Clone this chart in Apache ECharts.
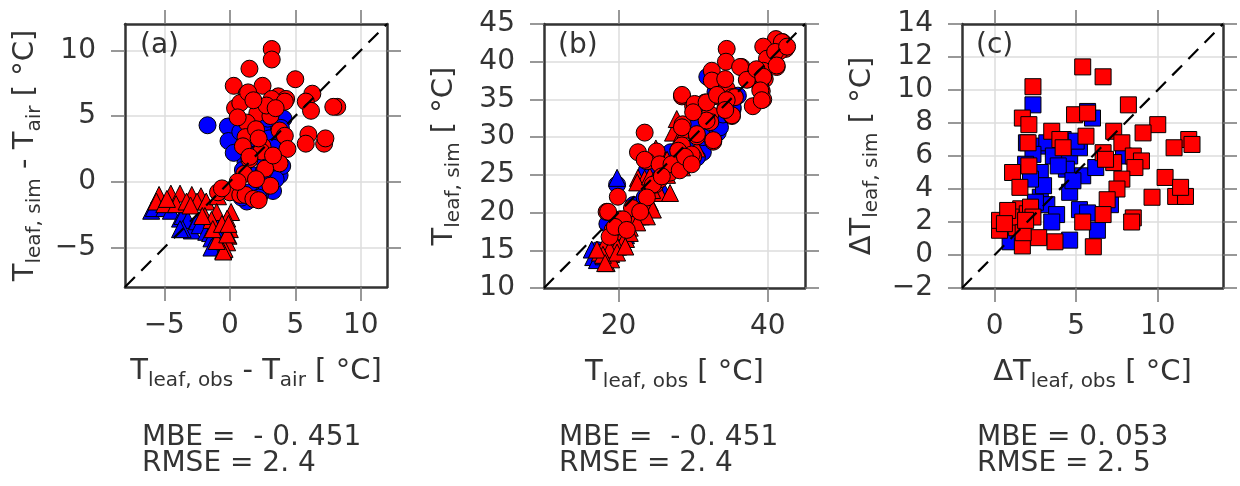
<!DOCTYPE html>
<html>
<head>
<meta charset="utf-8">
<script src="https://cdn.jsdelivr.net/npm/echarts@6/dist/echarts.min.js"></script>
<style>
  html, body { margin: 0; padding: 0; background: #fff; }
  #chart { width: 1240px; height: 486px; }
</style>
</head>
<body>
<div id="chart"></div>
<script>
// axis ranges and ticks per panel
var rangeA = [-8, 12];
var rangeB = [10, 45];
var rangeC = [-2, 14];
var ticksAx = [-5, 0, 5, 10];
var ticksAy = [-5, 0, 5, 10];
var ticksBx = [20, 40];
var ticksBy = [10, 15, 20, 25, 30, 35, 40, 45];
var ticksCx = [0, 5, 10];
var ticksCy = [-2, 0, 2, 4, 6, 8, 10, 12, 14];

var panelTags = ['(a)', '(b)', '(c)'];
var mbe = [-0.451, -0.451, 0.053];
var rmse = [2.4, 2.4, 2.5];

// (a) Tleaf,sim - Tair vs Tleaf,obs - Tair
var aBlueCircle = [
  [-1.7, 4.3], [-0.15, 4.2], [-0.1, 3.1], [0.8, 3.8], [2.8, 3.9], [3.6, 4.5], [4.1, 4.8], [3.6, 2.0],
  [3.6, 1.5], [3.8, 0.5], [3.3, -0.7], [2.3, -1.0], [1.2, 1.5], [1.4, 2.5], [1.8, 0.5], [3.1, 1.5],
  [1.3, -1.5], [2.0, 3.2], [2.5, 4.2], [3.0, 3.3], [3.9, 3.0], [4.0, 1.2], [3.5, 0.2], [2.8, -0.3],
  [1.5, -0.8], [0.5, -0.6], [1.0, 0.9], [2.2, 1.9], [2.6, 0.8], [3.3, 2.6], [0.3, 2.2], [1.6, 3.3],
  [2.2, -1.2], [0.9, -1.2], [3.9, 4.1], [2.9, 4.8]
];
var aBlueTri = [
  [-6.0, -2.2], [-5.8, -2.0], [-5.0, -2.0], [-4.5, -2.2], [-3.8, -2.8], [-3.6, -2.6], [-3.2, -2.9],
  [-2.9, -3.7], [-3.6, -3.6], [-3.8, -3.6], [-2.5, -3.0], [-2.3, -3.3], [-2.0, -2.6], [-1.8, -3.8],
  [-1.5, -3.9], [-1.4, -4.3], [-1.3, -4.9], [-1.4, -5.0], [-1.0, -3.4], [-0.8, -4.2], [-0.5, -5.2]
];
var aRedTri = [
  [-5.4, -1.0], [-4.5, -0.9], [-3.8, -0.9], [-2.9, -1.0], [-2.2, -1.1], [-5.6, -1.5], [-5.0, -1.7],
  [-4.1, -1.7], [-3.3, -1.5], [-2.5, -1.5], [-1.8, -1.5], [-0.9, -1.1], [-4.8, -1.3], [-3.0, -1.8],
  [-1.9, -2.6], [-1.0, -2.3], [0.1, -2.3], [-0.2, -2.8], [-1.4, -2.9], [-2.1, -2.6], [0.0, -3.6],
  [-0.1, -4.1], [-0.2, -4.6], [-0.4, -5.1], [-0.5, -5.3], [-1.0, -4.5], [-1.3, -3.6], [-0.6, -3.2],
  [-0.2, -4.0], [-0.1, -3.2]
];
var aRedCircle = [
  [3.2, 10.1], [3.2, 9.3], [1.5, 8.6], [0.3, 7.3], [5.0, 7.8], [1.3, 6.7], [2.5, 7.3], [3.7, 6.5],
  [4.3, 6.3], [6.3, 6.7], [5.8, 6.1], [6.2, 5.4], [8.2, 5.7], [7.9, 5.7], [0.4, 5.6], [0.8, 6.0],
  [2.1, 5.2], [3.1, 5.0], [1.3, 4.5], [3.8, 3.9], [4.2, 3.5], [6.0, 3.6], [5.8, 2.9], [7.2, 2.9],
  [7.3, 3.3], [1.2, 3.4], [1.0, 2.7], [2.5, 2.7], [4.4, 2.5], [2.4, 2.3], [1.5, 1.7], [3.8, 1.4],
  [2.7, 1.0], [1.1, 0.6], [3.1, -0.3], [0.4, -0.5], [0.0, -0.8], [0.8, -1.0], [1.2, -1.0],
  [1.8, -1.3], [2.2, -1.4], [-0.9, -0.8], [-0.6, -0.5], [1.4, 6.8], [3.2, 6.3], [4.2, 6.1],
  [2.0, 4.0], [2.8, 5.8], [3.5, 5.6], [1.8, 6.2], [2.2, 3.3], [0.6, 4.9], [3.3, 2.0], [2.0, 0.2],
  [0.6, 0.0], [1.5, 1.9]
];

// (b) Tleaf,sim vs Tleaf,obs
var bBlueCircle = [
  [19.8, 23.7], [31.3, 28.0], [31.9, 38.0], [33.3, 30.6], [35.3, 33.7], [30.5, 27.3], [28.0, 26.5],
  [25.0, 24.5], [22.0, 21.0], [32.9, 32.6], [33.6, 31.3], [31.3, 30.0], [29.0, 28.5], [34.0, 33.0],
  [36.0, 35.5], [27.0, 28.0], [18.5, 18.5], [23.5, 22.0], [33.0, 36.0], [23.8, 25.6], [30.0, 31.5],
  [17.2, 15.0], [35.3, 34.0]
];
var bBlueTri = [
  [16.4, 15.1], [16.6, 14.1], [17.1, 13.7], [19.8, 24.6], [24.0, 21.5], [21.0, 17.0], [18.0, 14.2],
  [26.0, 23.0], [27.5, 26.0], [29.0, 27.5], [23.0, 19.5]
];
var bRedTri = [
  [17.5, 14.7], [18.4, 13.3], [19.0, 14.5], [20.0, 15.5], [21.0, 16.5], [22.5, 19.5], [24.2, 21.3],
  [25.5, 22.6], [26.9, 22.6], [27.3, 30.6], [27.8, 32.4], [26.0, 27.4], [22.6, 24.6], [19.5, 16.0],
  [23.0, 20.5], [18.0, 15.5], [20.5, 17.5], [21.5, 18.0], [24.5, 23.0], [26.5, 25.0], [28.0, 29.5],
  [29.0, 31.0], [25.0, 28.5], [23.5, 24.5], [19.0, 13.8], [22.0, 18.8], [28.5, 26.0], [30.5, 28.5],
  [22.5, 24.0], [24.2, 24.8], [24.6, 20.4], [23.8, 19.5], [22.5, 18.7], [21.5, 17.3], [20.6, 16.1],
  [19.8, 15.5], [18.8, 15.1], [17.9, 14.4], [17.1, 15.1], [18.2, 13.3], [19.8, 14.7], [20.9, 15.5],
  [25.5, 25.7], [26.5, 27.0]
];
var bRedCircle = [
  [41.1, 43.0], [42.0, 42.6], [42.4, 41.7], [41.6, 41.4], [39.4, 42.0], [39.9, 40.4], [41.2, 39.3],
  [39.4, 38.8], [39.6, 37.7], [39.0, 36.8], [39.2, 36.1], [39.4, 35.0], [38.0, 34.1], [36.5, 39.3],
  [37.3, 37.7], [34.5, 41.7], [34.4, 40.0], [32.5, 38.8], [32.7, 37.4], [34.5, 36.4], [35.2, 35.3],
  [33.3, 35.4], [31.6, 34.6], [34.3, 33.7], [35.2, 32.8], [32.3, 33.0], [28.5, 35.4], [30.0, 34.1],
  [28.6, 31.7], [30.5, 30.1], [32.7, 29.4], [23.5, 30.6], [22.6, 28.0], [25.1, 28.1], [23.8, 26.8],
  [27.3, 26.4], [28.6, 26.0], [30.0, 27.4], [32.3, 32.0], [24.9, 23.7], [25.5, 24.4], [26.9, 25.3],
  [19.9, 22.1], [18.4, 20.1], [21.8, 20.6], [20.2, 19.1], [19.2, 17.7], [18.8, 16.8], [32.5, 37.5],
  [34.3, 37.7], [36.3, 39.3], [37.2, 37.6], [38.5, 39.0], [39.4, 38.0], [39.0, 36.2], [39.2, 34.9],
  [35.6, 35.3], [35.2, 32.9], [28.5, 35.6], [30.2, 34.4], [31.8, 34.6], [33.2, 35.6], [34.5, 34.9],
  [34.3, 33.6], [31.8, 32.2], [30.5, 30.4], [28.5, 31.3], [30.0, 33.3], [32.7, 29.6], [28.5, 28.9],
  [29.8, 27.7], [28.0, 28.2], [23.5, 27.0], [25.5, 26.4], [27.1, 26.4], [28.2, 25.6], [41.9, 42.6],
  [41.0, 41.3], [41.2, 39.5], [42.6, 42.0], [28.9, 27.4], [29.8, 26.4], [24.6, 23.7], [25.8, 24.8],
  [23.8, 22.0], [22.9, 20.1], [20.6, 19.1], [19.5, 18.1], [21.1, 17.7], [18.6, 20.1]
];

// (c) dTleaf,sim vs dTleaf,obs
var cBlueSquare = [
  [2.35, 9.1], [1.95, 6.8], [2.75, 6.6], [3.2, 6.8], [2.35, 6.1], [1.9, 5.5], [2.8, 5.0], [3.6, 6.0],
  [4.6, 6.0], [5.2, 6.5], [6.0, 8.3], [5.7, 8.7], [4.4, 5.2], [5.4, 4.8], [6.2, 5.3], [4.6, 3.8],
  [5.2, 2.75], [5.7, 2.55], [6.3, 1.5], [7.1, 3.05], [2.8, 3.5], [3.2, 3.05], [3.8, 2.45], [3.5, 2.0],
  [4.6, 0.9], [0.95, 0.8], [3.9, 5.4], [7.9, 6.0], [2.5, 3.2], [4.8, 4.5], [3.0, 4.2], [4.2, 7.0],
  [5.0, 6.9], [2.2, 4.6]
];
var cRedSquare = [
  [5.4, 11.4], [6.65, 10.8], [2.35, 10.2], [8.2, 9.1], [4.9, 8.5], [5.7, 8.6], [1.7, 8.3], [2.1, 7.9],
  [10.0, 7.9], [9.1, 7.4], [7.3, 7.5], [3.5, 7.5], [4.0, 7.0], [5.6, 7.2], [2.05, 6.8], [4.2, 6.5],
  [11.9, 7.0], [12.1, 6.7], [11.0, 6.5], [7.8, 6.8], [6.65, 6.2], [8.5, 6.0], [9.0, 5.7], [7.3, 5.6],
  [8.6, 5.3], [6.8, 5.8], [2.1, 5.4], [1.1, 5.0], [1.55, 4.1], [7.8, 4.6], [7.5, 4.0], [10.45, 4.7],
  [9.65, 3.5], [11.1, 3.55], [11.7, 3.55], [11.4, 4.1], [6.9, 3.35], [6.65, 2.45], [8.5, 2.25],
  [8.4, 2.0], [5.4, 2.0], [6.05, 0.5], [3.7, 0.8], [2.7, 1.05], [1.7, 0.55], [0.3, 1.5], [1.35, 1.65],
  [0.3, 2.1], [1.2, 2.6], [1.6, 2.8], [2.0, 2.5], [1.0, 2.3], [2.2, 2.9], [0.8, 2.7], [2.35, 2.3],
  [1.75, 1.35], [0.6, 1.9], [1.9, 2.1]
];

var FONT = '"DejaVu Sans", sans-serif';
var INK = '#333';
var grids = [
  { left: 125, top: 24, width: 262, height: 263 },
  { left: 544, top: 24, width: 261, height: 264 },
  { left: 962, top: 24, width: 261, height: 264 }
];
var ranges = [rangeA, rangeB, rangeC];
var xticks = [ticksAx, ticksBx, ticksCx];
var yticks = [ticksAy, ticksBy, ticksCy];
var xNames = [
  '{t|T}{s|leaf, obs}{t| - T}{s|air}{t| [ °C]}',
  '{t|T}{s|leaf, obs}{t| [ °C]}',
  '{t|ΔT}{s|leaf, obs}{t| [ °C]}'
];
var yNames = [
  '{t|T}{s|leaf, sim}{t| - T}{s|air}{t| [ °C]}',
  '{t|T}{s|leaf, sim}{t| [ °C]}',
  '{t|ΔT}{s|leaf, sim}{t| [ °C]}'
];

var rich = {
  t: { fontSize: 29, fontFamily: FONT, color: INK, lineHeight: 40 },
  s: { fontSize: 20, fontFamily: FONT, color: INK, lineHeight: 26, verticalAlign: 'bottom' }
};

function fmt(v) {
  return v < 0 ? '\u2212' + Math.abs(v) : String(v);
}

var xAxes = [], yAxes = [];
grids.forEach(function (g, i) {
  g.outerBoundsMode = 'none';
  var r = ranges[i];
  var tickStyle = { show: true, inside: false, length: 14, lineStyle: { color: '#777', width: 1.5 } };
  var boxLine = { show: true, onZero: false, lineStyle: { color: INK, width: 2.5 } };
  xAxes.push({
    gridIndex: i, type: 'value', min: r[0], max: r[1], position: 'bottom',
    axisLine: boxLine,
    axisTick: Object.assign({ customValues: xticks[i] }, tickStyle),
    axisLabel: { customValues: xticks[i], margin: 25, fontSize: 28, color: INK, fontFamily: FONT, formatter: fmt },
    splitLine: { show: true, lineStyle: { color: '#dcdcdc', width: 1.5 } },
    name: xNames[i], nameLocation: 'middle', nameGap: 64,
    nameTextStyle: { rich: rich }
  });
  xAxes.push({
    gridIndex: i, type: 'value', min: r[0], max: r[1], position: 'top',
    axisLine: boxLine,
    axisTick: Object.assign({ customValues: xticks[i] }, tickStyle),
    axisLabel: { show: false, customValues: xticks[i] },
    splitLine: { show: false }
  });
  yAxes.push({
    gridIndex: i, type: 'value', min: r[0], max: r[1], position: 'left',
    axisLine: boxLine,
    axisTick: Object.assign({ customValues: yticks[i] }, tickStyle),
    axisLabel: { customValues: yticks[i], margin: 29, fontSize: 28, color: INK, fontFamily: FONT, formatter: fmt },
    splitLine: { show: true, lineStyle: { color: '#dcdcdc', width: 1.5 } },
    name: yNames[i], nameLocation: 'middle', nameGap: 80, nameRotate: 90,
    nameTextStyle: { rich: rich }
  });
  yAxes.push({
    gridIndex: i, type: 'value', min: r[0], max: r[1], position: 'right',
    axisLine: boxLine,
    axisTick: Object.assign({ customValues: yticks[i] }, tickStyle),
    axisLabel: { show: false, customValues: yticks[i] },
    splitLine: { show: false }
  });
});

function scatter(i, data, color, symbol, size, z) {
  return {
    type: 'scatter', xAxisIndex: i * 2, yAxisIndex: i * 2, data: data,
    symbol: symbol, symbolSize: size, z: z, silent: true,
    itemStyle: { color: color, borderColor: '#000', borderWidth: 1, opacity: 1 }
  };
}
function oneToOne(i) {
  var r = ranges[i];
  return {
    type: 'line', xAxisIndex: i * 2, yAxisIndex: i * 2, data: [[r[0], r[0]], [r[1], r[1]]],
    symbol: 'none', silent: true, z: 10,
    lineStyle: { color: '#000', width: 2.2, type: [14, 9] }
  };
}

var series = [
  scatter(0, aBlueCircle, '#0000ff', 'circle', 17, 2),
  scatter(0, aBlueTri, '#0000ff', 'triangle', 17, 3),
  scatter(0, aRedTri, '#ff0000', 'triangle', 17, 4),
  scatter(0, aRedCircle, '#ff0000', 'circle', 17, 5),
  oneToOne(0),
  scatter(1, bBlueCircle, '#0000ff', 'circle', 17, 2),
  scatter(1, bBlueTri, '#0000ff', 'triangle', 17, 3),
  scatter(1, bRedTri, '#ff0000', 'triangle', 17, 4),
  scatter(1, bRedCircle, '#ff0000', 'circle', 17, 5),
  oneToOne(1),
  scatter(2, cBlueSquare, '#0000ff', 'rect', 16, 2),
  scatter(2, cRedSquare, '#ff0000', 'rect', 16, 5),
  oneToOne(2)
];

function statText(i) {
  var m = mbe[i] < 0 ? ' - ' + String(Math.abs(mbe[i])).replace('.', '. ') : String(mbe[i]).replace('.', '. ');
  return 'MBE = ' + m + '\nRMSE = ' + String(rmse[i]).replace('.', '. ');
}

var graphic = [];
var statLeft = [142, 559, 977];
var tagLeft = [140, 558, 976];
grids.forEach(function (g, i) {
  graphic.push({
    type: 'text', left: tagLeft[i], top: 32, z: 20,
    style: { text: panelTags[i], fontSize: 28, fontFamily: FONT, fill: INK }
  });
  graphic.push({
    type: 'text', left: statLeft[i], top: 424, z: 20,
    style: { text: statText(i), fontSize: 28, fontFamily: FONT, fill: INK, lineHeight: 26 }
  });
});

var chart = echarts.init(document.getElementById('chart'), null, { renderer: 'canvas' });
chart.setOption({
  backgroundColor: '#fff',
  animation: false,
  grid: grids,
  xAxis: xAxes,
  yAxis: yAxes,
  series: series,
  graphic: graphic
});
</script>
</body>
</html>
